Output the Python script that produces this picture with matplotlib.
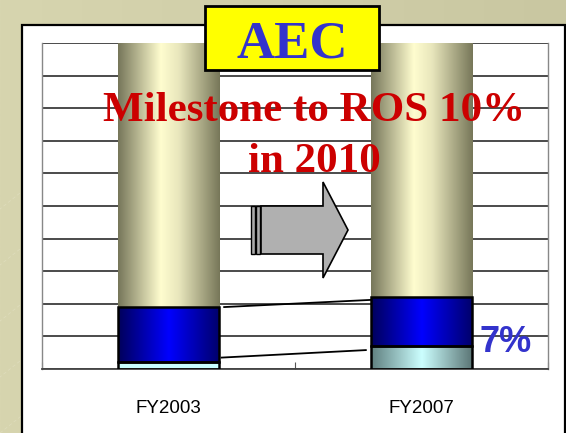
import numpy as np
import matplotlib
matplotlib.use("Agg")
import matplotlib.pyplot as plt
from matplotlib.colors import LinearSegmentedColormap
from matplotlib.patches import Rectangle, Polygon

# ---- data ----
categories = ["FY2003", "FY2007"]
ros_values = [2, 7]          # light cyan segment (ROS %)
blue_values = [17, 15]       # blue segment
rest_values = [81, 78]       # khaki remainder to 100
ros_label = "7%"
title_text = "AEC"
milestone_line1 = "Milestone to ROS 10%"
milestone_line2 = "in 2010"

W, H = 566, 433
fig = plt.figure(figsize=(W / 100, H / 100), dpi=100)

# background
bg = fig.add_axes([0, 0, 1, 1], zorder=-10)
bg.set_xlim(0, W); bg.set_ylim(H, 0); bg.axis("off")
grad_bg = np.linspace(0, 1, 200)[None, :]
bg_cmap = LinearSegmentedColormap.from_list("bg", ["#d7d5af", "#c9c7a1"])
bg.imshow(grad_bg, cmap=bg_cmap, extent=(0, W, H, 0), aspect="auto", zorder=0)
for k in range(-8, 12):
    x0 = k * 70
    bg.plot([x0, x0 + 300], [H, H - 300 * 0.8], color="#e6e4c8", lw=0.6, alpha=0.5,
            ls=(0, (4, 3)), zorder=1)
bg.add_patch(Rectangle((22, 25), 543, 420, facecolor="white", edgecolor="black", lw=1.6, zorder=5))

# main axes
ax = fig.add_axes([42 / W, (H - 369) / H, 506 / W, 326 / H])
ax.set_xlim(-0.5, 1.5)
ax.set_ylim(0, 100)
ax.set_facecolor("none")
ax.set_yticks(np.arange(0, 101, 10))
ax.yaxis.grid(True, color="#1a1a1a", lw=1.1)
ax.set_axisbelow(True)
ax.tick_params(axis="y", left=False, labelleft=False)
ax.set_xticks([-0.5, 0.5, 1.5], minor=False)
ax.set_xticklabels([])
ax.tick_params(axis="x", direction="in", length=5, color="#555555")
ax.set_xticks([0, 1], minor=True)
ax.set_xticklabels(categories, minor=True, fontsize=13.5, family="Liberation Sans")
ax.tick_params(axis="x", which="minor", length=0, pad=22)
for s in ["left", "right"]:
    ax.spines[s].set_color("#888888"); ax.spines[s].set_linewidth(1.0)
ax.spines["top"].set_visible(False)
ax.spines["bottom"].set_color("#444444"); ax.spines["bottom"].set_linewidth(1.3)

x = np.arange(len(categories))
bw = 0.4
khaki = LinearSegmentedColormap.from_list("kh", [(0, "#76765a"), (0.42, "#fffdcf"), (0.6, "#e8e6bc"), (1, "#777759")])
blue = LinearSegmentedColormap.from_list("bl", [(0, "#00005a"), (0.5, "#0000ff"), (1, "#00006a")])
cyan_flat = LinearSegmentedColormap.from_list("cf", ["#c8ffff", "#c8ffff"])
cyan_grad = LinearSegmentedColormap.from_list("cg", [(0, "#5f7f7f"), (0.5, "#ccffff"), (1, "#5a7474")])
g = np.linspace(0, 1, 256)[None, :]

def grad_bar(xc, bottom, height, cmap, edge):
    b = ax.bar(xc, height, bw, bottom=bottom, facecolor="none",
               edgecolor=edge if edge else "none", lw=1.8 if edge else 0, zorder=3)[0]
    im = ax.imshow(g, cmap=cmap, extent=(xc - bw / 2, xc + bw / 2, bottom, bottom + height),
                   aspect="auto", zorder=2.5, interpolation="bilinear")
    im.set_clip_path(b)

for i in range(len(categories)):
    grad_bar(x[i], 0, ros_values[i], cyan_flat if i == 0 else cyan_grad, "black")
    grad_bar(x[i], ros_values[i], blue_values[i], blue, "black")
    grad_bar(x[i], ros_values[i] + blue_values[i], rest_values[i], khaki, None)
ax.set_xlim(-0.5, 1.5); ax.set_ylim(0, 100)

# series lines
c1 = np.array(ros_values)
c2 = c1 + np.array(blue_values)
ax.plot([x[0] + bw / 2 + 0.01, x[1] - bw / 2 - 0.02], [c1[0] + 1.5, c1[1] - 1.2], color="black", lw=1.3, zorder=4)
ax.plot([x[0] + bw / 2 + 0.02, x[1] - bw / 2], [c2[0], c2[1] - 0.8], color="black", lw=1.3, zorder=4)

ax.text(x[1] + bw / 2 + 0.03, ros_values[1] + 1.2, ros_label, color="#3333cc", fontsize=26,
        fontweight="bold", family="Liberation Sans", va="center", ha="left", zorder=5)

# overlay (figure pixel coords)
ov = fig.add_axes([0, 0, 1, 1], zorder=5)
ov.set_xlim(0, W); ov.set_ylim(H, 0); ov.axis("off")
ov.add_patch(Rectangle((251, 206), 4, 48, facecolor="#aaaaaa", edgecolor="black", lw=1))
ov.add_patch(Rectangle((256, 206), 4, 48, facecolor="#aaaaaa", edgecolor="black", lw=1))
ov.add_patch(Polygon([(261, 206), (323, 206), (323, 182), (348, 230), (323, 278), (323, 254), (261, 254)],
                     closed=True, facecolor="#b0b0b0", edgecolor="black", lw=1.2))

# title box
ov.add_patch(Rectangle((205, 6), 174, 64, facecolor="#ffff00", edgecolor="black", lw=2))
ov.text(292, 57, title_text, color="#3333cc", fontsize=38, fontweight="bold",
        family="Liberation Serif", ha="center", va="baseline")

ov.text(314, 121, milestone_line1, color="#cc0000", fontsize=31, fontweight="bold",
        family="Liberation Serif", ha="center", va="baseline")
ov.text(314, 172, milestone_line2, color="#cc0000", fontsize=31, fontweight="bold",
        family="Liberation Serif", ha="center", va="baseline")

fig.savefig("out.png", dpi=100)
